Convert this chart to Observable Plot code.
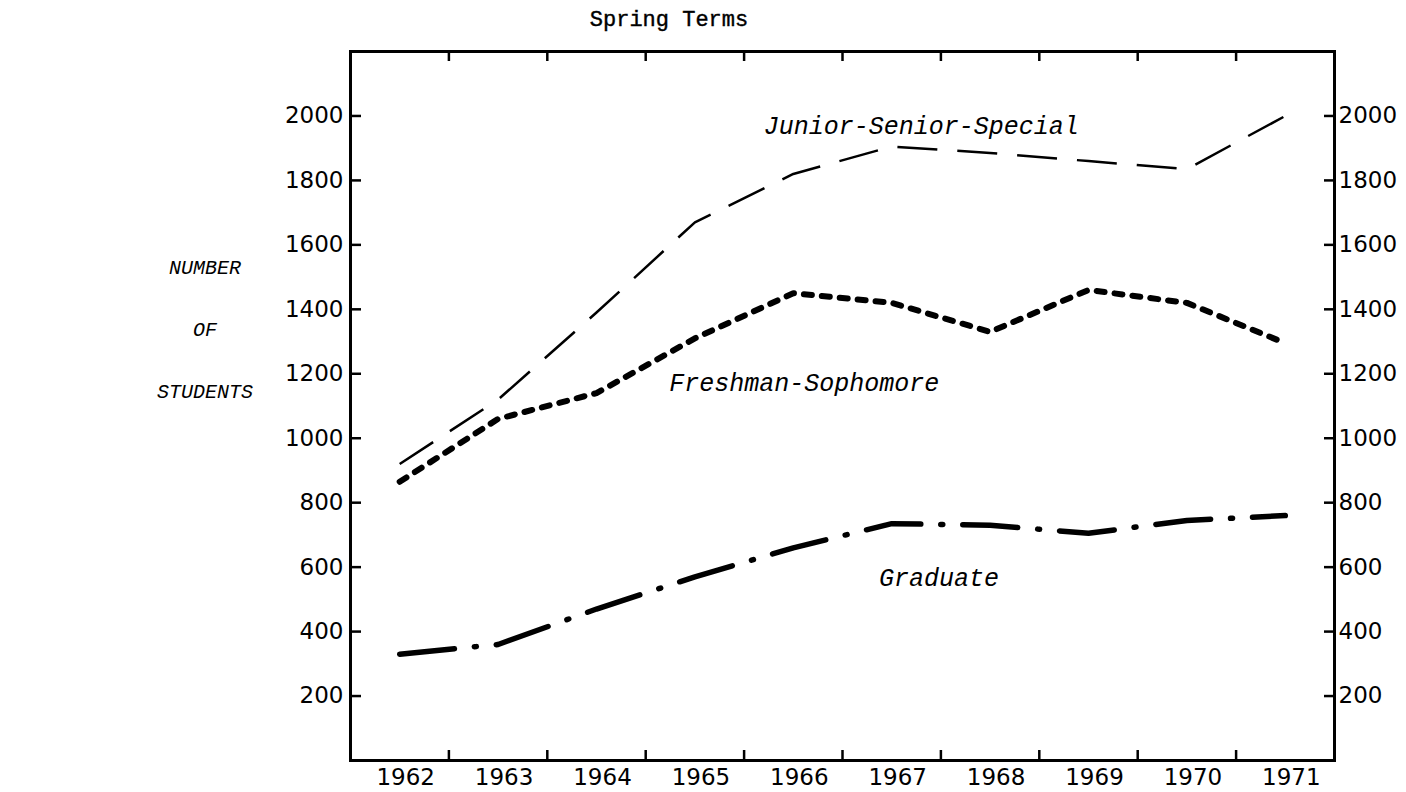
<!DOCTYPE html>
<html>
<head>
<meta charset="utf-8">
<script src="https://cdn.jsdelivr.net/npm/d3@7"></script>
<script src="https://cdn.jsdelivr.net/npm/@observablehq/plot@0.6"></script>
<style>
  html, body { margin: 0; padding: 0; background: #fff; }
  #wrap { position: relative; width: 1406px; height: 792px; overflow: hidden; }
  #chart { position: absolute; left: 0; top: 0; }
  #title { position: absolute; left: 669px; top: 8px; transform: translateX(-50%);
           font-family: "Liberation Mono", "DejaVu Sans Mono", monospace; font-size: 22px; color: #000; white-space: nowrap;
           -webkit-text-stroke: 0.4px #000; }
  #ylabel { position: absolute; left: 205px; top: 238px; transform: translateX(-50%);
            font-family: "Liberation Mono", "DejaVu Sans Mono", monospace; font-style: italic; font-size: 20px;
            color: #000; text-align: center; line-height: 62px; white-space: nowrap; }
</style>
</head>
<body>
<div id="wrap">
  <div id="chart"></div>
  <div id="title">Spring Terms</div>
  <div id="ylabel">NUMBER<br>OF<br>STUDENTS</div>
</div>
<script>
// ---- data ----
const years = [1962, 1963, 1964, 1965, 1966, 1967, 1968, 1969, 1970, 1971];
const juniorSeniorSpecial = [920, 1120, 1390, 1670, 1820, 1905, 1885, 1860, 1835, 2000];
const freshmanSophomore   = [865, 1060, 1140, 1310, 1450, 1420, 1330, 1460, 1420, 1295];
const graduate            = [330, 360, 470, 570, 660, 735, 730, 705, 745, 760];
const yTicks = [200, 400, 600, 800, 1000, 1200, 1400, 1600, 1800, 2000];
const xTickMarks = [1962.5, 1963.5, 1964.5, 1965.5, 1966.5, 1967.5, 1968.5, 1969.5, 1970.5];
const seriesNames = ["Junior-Senior-Special", "Freshman-Sophomore", "Graduate"];
const seriesLabelYear = [1965.7, 1964.74, 1966.87];
const seriesLabelValue = [1970, 1170, 565];

const rows = vals => years.map((year, i) => ({year, value: vals[i]}));
const labels = seriesNames.map((name, i) => ({name, year: seriesLabelYear[i], value: seriesLabelValue[i]}));

const W = 1406, H = 792, ML = 350, MR = 72, MT = 51, MB = 32;
const frameW = W - ML - MR, frameH = H - MT - MB;
const tickLen = 10;

const plot = Plot.plot({
  width: W,
  height: H,
  marginLeft: ML,
  marginRight: MR,
  marginTop: MT,
  marginBottom: MB,
  x: {domain: [1961.5, 1971.5]},
  y: {domain: [0, 2200]},
  style: {fontFamily: "DejaVu Sans", fontSize: "23px", color: "#000", background: "#fff"},
  marks: [
    // inward tick marks
    Plot.tickX(xTickMarks, {x: d => d, insetTop: frameH - tickLen, stroke: "#000", strokeWidth: 2.5}),
    Plot.tickX(xTickMarks, {x: d => d, insetBottom: frameH - tickLen, stroke: "#000", strokeWidth: 2.5}),
    Plot.tickY(yTicks, {y: d => d, insetRight: frameW - tickLen - 1, stroke: "#000", strokeWidth: 2.5}),
    Plot.tickY(yTicks, {y: d => d, insetLeft: frameW - tickLen, stroke: "#000", strokeWidth: 2.5}),
    Plot.frame({stroke: "#000", strokeWidth: 3}),
    // tick labels
    Plot.axisX(years, {anchor: "bottom", tickSize: 0, tickPadding: 8, dx: 6, tickFormat: d => String(d), label: null}),
    Plot.axisY(yTicks, {anchor: "left", tickSize: 0, tickPadding: 7, tickFormat: d => String(d), label: null}),
    Plot.axisY(yTicks, {anchor: "right", tickSize: 0, tickPadding: 4, tickFormat: d => String(d), label: null}),
    // series
    Plot.line(rows(juniorSeniorSpecial), {x: "year", y: "value", stroke: "#000", strokeWidth: 2.5,
      strokeDasharray: "40,20", strokeLinecap: "butt"}),
    Plot.line(rows(freshmanSophomore), {x: "year", y: "value", stroke: "#000", strokeWidth: 6,
      strokeDasharray: "8,10", strokeLinecap: "round"}),
    Plot.line(rows(graduate), {x: "year", y: "value", stroke: "#000", strokeWidth: 5.5,
      strokeDasharray: "55,20,2,20", strokeLinecap: "round"}),
    // series labels
    Plot.text(labels, {x: "year", y: "value", text: "name", textAnchor: "start",
      fontFamily: "Liberation Mono", fontStyle: "italic", fontSize: 25, fill: "#000"})
  ]
});
document.getElementById("chart").appendChild(plot);
</script>
</body>
</html>
